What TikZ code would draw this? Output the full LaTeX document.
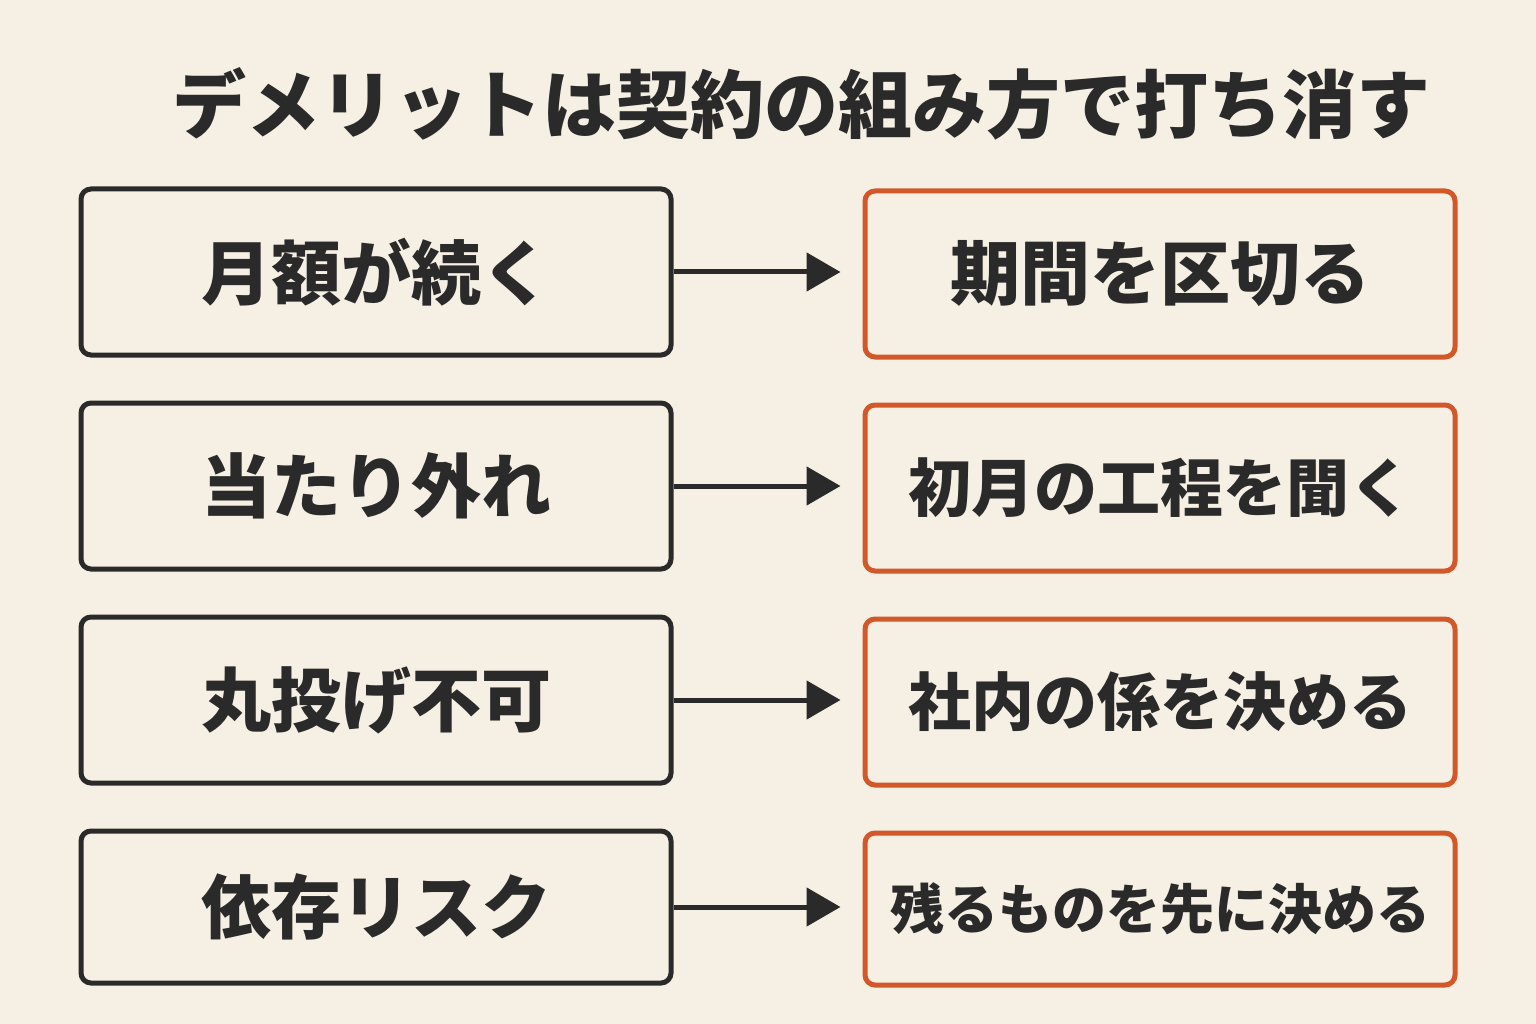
\documentclass[tikz,border=0pt]{standalone}
\usepackage{fontspec}
\newfontfamily\cjk{Noto Sans CJK JP}
\usetikzlibrary{arrows.meta}
\definecolor{bg}{HTML}{F6F0E4}
\definecolor{ink}{HTML}{2A2A2A}
\definecolor{org}{HTML}{D2582A}
\begin{document}
\begin{tikzpicture}[x=1pt,y=-1pt,
  lbox/.style={draw=ink,line width=5pt,rounded corners=10pt,minimum width=590pt,minimum height=166pt,font=\cjk\bfseries\fontsize{70}{74}\selectfont,text=ink,inner sep=0pt},
  rbox/.style={lbox,draw=org},
  arr/.style={draw=ink,line width=5pt,-{Triangle[length=34pt,width=38pt]}}]
\fill[bg] (0,0) rectangle (1536,1024);
\useasboundingbox (0,0) rectangle (1536,1024);
\node[font=\cjk\bfseries\fontsize{74}{78}\selectfont,text=ink] (title) at (801,104) {デメリットは契約の組み方で打ち消す};
\node[lbox] (l1) at (376,272) {月額が続く};
\node[lbox] (l2) at (376,486) {当たり外れ};
\node[lbox] (l3) at (376,700) {丸投げ不可};
\node[lbox,minimum height=152pt] (l4) at (376,907) {依存リスク};
\node[rbox] (r1) at (1160,274) {期間を区切る};
\node[rbox,font=\cjk\bfseries\fontsize{63}{66}\selectfont] (r2) at (1160,488) {初月の工程を聞く};
\node[rbox,font=\cjk\bfseries\fontsize{63}{66}\selectfont] (r3) at (1160,702) {社内の係を決める};
\node[rbox,minimum height=152pt,font=\cjk\bfseries\fontsize{54}{58}\selectfont] (r4) at (1160,909) {残るものを先に決める};
\foreach \i in {1,2,3,4}{\draw[arr] (l\i.east) -- ([xshift=-22pt]r\i.west|-l\i.east);}
\end{tikzpicture}
\end{document}
